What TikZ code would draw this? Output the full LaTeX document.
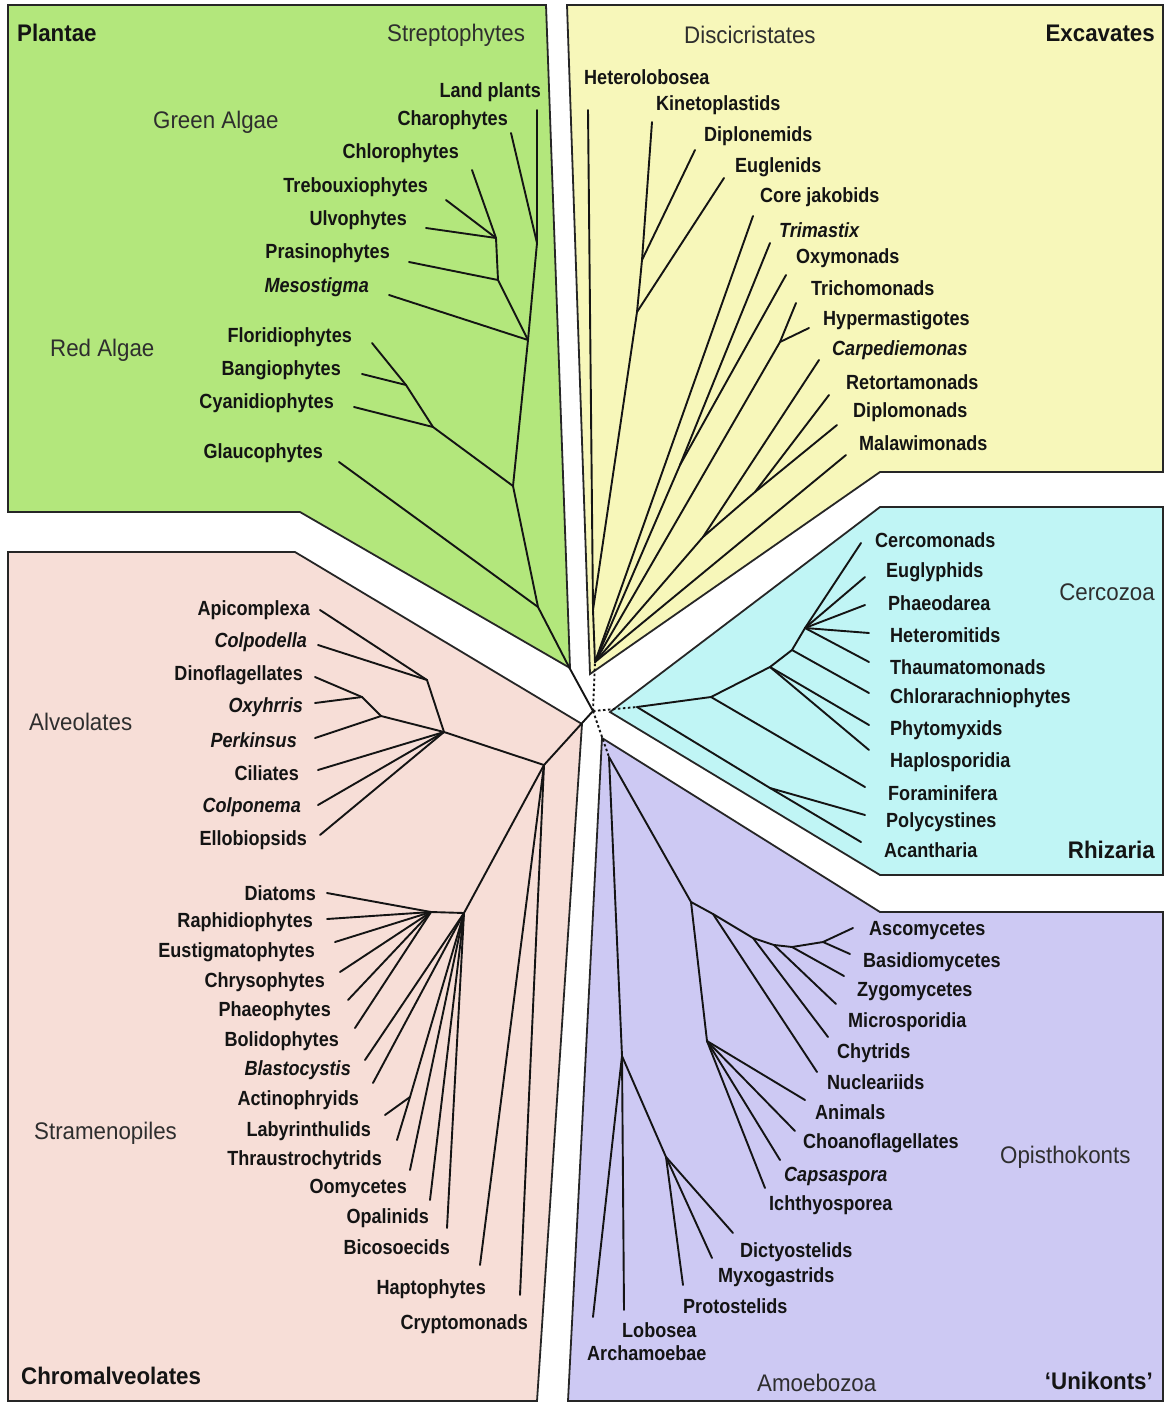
\documentclass[tikz,border=0pt]{standalone}
\usepackage{fontspec}
\setmainfont{Liberation Sans}
\newfontfamily\narrowsans[FakeStretch=0.88]{Liberation Sans}
\newfontfamily\groupsans[FakeStretch=0.93]{Liberation Sans}
\definecolor{plantgreen}{HTML}{B3E77C}
\definecolor{excavyellow}{HTML}{F7F7BA}
\definecolor{rhizcyan}{HTML}{C0F5F5}
\definecolor{chromapink}{HTML}{F7DED7}
\definecolor{unipurple}{HTML}{CDC9F3}
\definecolor{inkblack}{HTML}{141414}
\tikzset{
    pn panel/.style={draw=black!85, line width=1.8pt, line join=miter},
    tr branch/.style={-, draw=inkblack, line width=1.9pt, line cap=round},
    tr link/.style={-, draw=inkblack, line width=1.9pt,
                    dash pattern=on 2.5pt off 2.5pt},
    % Label styles
    tl leaf/.style={font=\narrowsans\fontsize{20.5}{22}\selectfont\bfseries,
                    text=inkblack, inner sep=0pt},
    tl leafit/.style={font=\narrowsans\fontsize{20.5}{22}\selectfont\bfseries\itshape,
                      text=inkblack, inner sep=0pt},
    tl group/.style={font=\groupsans\fontsize{24}{27}\selectfont,
                     text=black!82, inner sep=0pt},
    tl super/.style={font=\groupsans\fontsize{24}{27}\selectfont\bfseries,
                     text=inkblack, inner sep=0pt},
}

\begin{document}
\begin{tikzpicture}[x=1pt, y=-1pt]
    \useasboundingbox (0,0) rectangle (1165,1405);
    \fill[white] (0,0) rectangle (1165,1405);
    % Panels
    \draw[pn panel, fill=plantgreen] (8,5) -- (546,5) -- (570,668)
        -- (300,512) -- (8,512) -- cycle;
    \draw[pn panel, fill=excavyellow] (567,5) -- (1163,5) -- (1163,472)
        -- (880,472) -- (590,674) -- cycle;
    \draw[pn panel, fill=rhizcyan] (880,507) -- (1163,507) -- (1163,875)
        -- (880,875) -- (610,712) -- cycle;
    \draw[pn panel, fill=chromapink] (8,552) -- (295,552) -- (582,724)
        -- (537,1401) -- (8,1401) -- cycle;
    \draw[pn panel, fill=unipurple] (602,738) -- (880,912) -- (1163,912)
        -- (1163,1401) -- (568,1401) -- cycle;

    % Centre
    \coordinate (ctr) at (593,711);
    \coordinate (pl0) at (569,667);
    \coordinate (ex0) at (595,662);
    \coordinate (rz0) at (637,707);
    \coordinate (un0) at (609,757);
    \coordinate (ch0) at (544,765);
    \draw[tr branch] (ctr) -- (pl0);
    \draw[tr branch] (ctr) -- (ch0);
    \draw[tr link] (ctr) -- (ex0);
    \draw[tr link] (ctr) -- (rz0);
    \draw[tr link] (ctr) -- (un0);

    % Plantae
    \coordinate (plG) at (538,607);
    \coordinate (plA) at (513,486);
    \coordinate (plR) at (433,427);
    \coordinate (plRb) at (406,385);
    \coordinate (plB) at (528,340);
    \coordinate (plC) at (537,243);
    \coordinate (plD) at (498,280);
    \coordinate (plE) at (496,238);
    \coordinate (glauE) at (339,462);
    \coordinate (cyanE) at (354,407);
    \coordinate (bangE) at (362,374);
    \coordinate (floriE) at (372,343);
    \coordinate (mesoE) at (389,295);
    \coordinate (prasE) at (409,262);
    \coordinate (ulvoE) at (426,228);
    \coordinate (trebE) at (446,200);
    \coordinate (chloE) at (472,170);
    \coordinate (charE) at (511,133);
    \coordinate (landE) at (537,110);
    \draw[tr branch] (pl0) -- (plG) -- (plA) -- (plB) -- (plC) -- (landE);
    \draw[tr branch] (plG) -- (glauE);
    \draw[tr branch] (plA) -- (plR) -- (cyanE);
    \draw[tr branch] (plR) -- (plRb) -- (floriE);
    \draw[tr branch] (plRb) -- (bangE);
    \draw[tr branch] (plB) -- (mesoE);
    \draw[tr branch] (plB) -- (plD) -- (plE) -- (chloE);
    \draw[tr branch] (plD) -- (prasE);
    \draw[tr branch] (plE) -- (ulvoE);
    \draw[tr branch] (plE) -- (trebE);
    \draw[tr branch] (plC) -- (charE);
    \node[tl leaf, anchor=east] (lLand) at (541,92) {Land plants};
    \node[tl leaf, anchor=east] (lChar) at (508,120) {Charophytes};
    \node[tl leaf, anchor=east] (lChlo) at (459,153) {Chlorophytes};
    \node[tl leaf, anchor=east] (lTreb) at (428,187) {Trebouxiophytes};
    \node[tl leaf, anchor=east] (lUlvo) at (407,220) {Ulvophytes};
    \node[tl leaf, anchor=east] (lPras) at (390,253) {Prasinophytes};
    \node[tl leafit, anchor=east] (lMeso) at (369,287) {Mesostigma};
    \node[tl leaf, anchor=east] (lFlori) at (352,337) {Floridiophytes};
    \node[tl leaf, anchor=east] (lBang) at (341,370) {Bangiophytes};
    \node[tl leaf, anchor=east] (lCyan) at (334,403) {Cyanidiophytes};
    \node[tl leaf, anchor=east] (lGlau) at (323,453) {Glaucophytes};
    \node[tl super, anchor=west] (lPlantae) at (17,33) {Plantae};
    \node[tl group, anchor=west] (lStrepto) at (387,35) {Streptophytes};
    \node[tl group, anchor=west] (lGreen) at (153,122) {Green Algae};
    \node[tl group, anchor=west] (lRed) at (50,350) {Red Algae};

    % Excavates
    \coordinate (exDi) at (593,610);
    \coordinate (exK2) at (637,312);
    \coordinate (exK1) at (642,260);
    \coordinate (exPx) at (680,465);
    \coordinate (exPb) at (780,342);
    \coordinate (exFo) at (703,537);
    \coordinate (exFr) at (755,492);
    \coordinate (hetE) at (588,110);
    \coordinate (kinE) at (652,122);
    \coordinate (dipnE) at (695,150);
    \coordinate (eugE) at (724,178);
    \coordinate (jakE) at (753,216);
    \coordinate (trimE) at (770,243);
    \coordinate (oxyE) at (786,275);
    \coordinate (trichE) at (796,303);
    \coordinate (hypE) at (809,328);
    \coordinate (carpE) at (819,360);
    \coordinate (retE) at (829,395);
    \coordinate (dipmE) at (837,425);
    \coordinate (malE) at (846,455);
    \draw[tr branch] (ex0) -- (exDi) -- (hetE);
    \draw[tr branch] (exDi) -- (exK2) -- (exK1) -- (kinE);
    \draw[tr branch] (exK1) -- (dipnE);
    \draw[tr branch] (exK2) -- (eugE);
    \draw[tr branch] (ex0) -- (jakE);
    \draw[tr branch] (ex0) -- (exPx) -- (trimE);
    \draw[tr branch] (exPx) -- (oxyE);
    \draw[tr branch] (ex0) -- (exPb) -- (trichE);
    \draw[tr branch] (exPb) -- (hypE);
    \draw[tr branch] (ex0) -- (exFo) -- (carpE);
    \draw[tr branch] (exFo) -- (exFr) -- (retE);
    \draw[tr branch] (exFr) -- (dipmE);
    \draw[tr branch] (ex0) -- (malE);
    \node[tl leaf, anchor=west] (lHet) at (584,77) {Heterolobosea};
    \node[tl leaf, anchor=west] (lKin) at (656,105) {Kinetoplastids};
    \node[tl leaf, anchor=west] (lDipn) at (704,136) {Diplonemids};
    \node[tl leaf, anchor=west] (lEug) at (735,167) {Euglenids};
    \node[tl leaf, anchor=west] (lJak) at (760,197) {Core jakobids};
    \node[tl leafit, anchor=west] (lTrim) at (779,230) {Trimastix};
    \node[tl leaf, anchor=west] (lOxy) at (796,258) {Oxymonads};
    \node[tl leaf, anchor=west] (lTrich) at (811,288) {Trichomonads};
    \node[tl leaf, anchor=west] (lHyp) at (823,320) {Hypermastigotes};
    \node[tl leafit, anchor=west] (lCarp) at (832,350) {Carpediemonas};
    \node[tl leaf, anchor=west] (lRet) at (846,382) {Retortamonads};
    \node[tl leaf, anchor=west] (lDipm) at (853,412) {Diplomonads};
    \node[tl leaf, anchor=west] (lMal) at (859,443) {Malawimonads};
    \node[tl group, anchor=west] (lDisc) at (684,35) {Discicristates};
    \node[tl super, anchor=east] (lExcav) at (1155,33) {Excavates};

    % Rhizaria
    \coordinate (rzR1) at (711,697);
    \coordinate (rzN2) at (770,667);
    \coordinate (rzN3) at (792,650);
    \coordinate (rzN4) at (805,628);
    \coordinate (rzP) at (770,788);
    \coordinate (cercE) at (861,543);
    \coordinate (euglE) at (865,577);
    \coordinate (phaeoE) at (865,605);
    \coordinate (hetmE) at (869,633);
    \coordinate (thauE) at (869,662);
    \coordinate (chlaE) at (869,693);
    \coordinate (phytE) at (869,725);
    \coordinate (haplE) at (869,750);
    \coordinate (foraE) at (865,787);
    \coordinate (polyE) at (865,815);
    \coordinate (acanE) at (861,842);
    \draw[tr branch] (rz0) -- (rzR1) -- (rzN2) -- (rzN3) -- (rzN4) -- (cercE);
    \draw[tr branch] (rzN4) -- (euglE);
    \draw[tr branch] (rzN4) -- (phaeoE);
    \draw[tr branch] (rzN4) -- (hetmE);
    \draw[tr branch] (rzN4) -- (thauE);
    \draw[tr branch] (rzN3) -- (chlaE);
    \draw[tr branch] (rzN2) -- (phytE);
    \draw[tr branch] (rzN2) -- (haplE);
    \draw[tr branch] (rzR1) -- (foraE);
    \draw[tr branch] (rz0) -- (rzP) -- (acanE);
    \draw[tr branch] (rzP) -- (polyE);
    \node[tl leaf, anchor=west] (lCerc) at (875,540) {Cercomonads};
    \node[tl leaf, anchor=west] (lEugl) at (886,572) {Euglyphids};
    \node[tl leaf, anchor=west] (lPhaeo) at (888,603) {Phaeodarea};
    \node[tl leaf, anchor=west] (lHetm) at (890,635) {Heteromitids};
    \node[tl leaf, anchor=west] (lThau) at (890,667) {Thaumatomonads};
    \node[tl leaf, anchor=west] (lChla) at (890,698) {Chlorarachniophytes};
    \node[tl leaf, anchor=west] (lPhyt) at (890,730) {Phytomyxids};
    \node[tl leaf, anchor=west] (lHapl) at (890,762) {Haplosporidia};
    \node[tl leaf, anchor=west] (lFora) at (888,793) {Foraminifera};
    \node[tl leaf, anchor=west] (lPoly) at (886,822) {Polycystines};
    \node[tl leaf, anchor=west] (lAcan) at (884,850) {Acantharia};
    \node[tl group, anchor=east] (lCercozoa) at (1155,592) {Cercozoa};
    \node[tl super, anchor=east] (lRhiz) at (1155,850) {Rhizaria};

    % Chromalveolates
    \coordinate (chAL) at (444,732);
    \coordinate (chAP) at (427,680);
    \coordinate (chDO) at (381,716);
    \coordinate (chDI) at (362,697);
    \coordinate (chS) at (464,913);
    \coordinate (chD) at (431,912);
    \coordinate (chLB) at (410,1097);
    \coordinate (apicE) at (320,610);
    \coordinate (colpdE) at (318,645);
    \coordinate (dinoE) at (315,677);
    \coordinate (oxyhE) at (315,703);
    \coordinate (perkE) at (315,738);
    \coordinate (cilE) at (318,770);
    \coordinate (colpnE) at (318,805);
    \coordinate (elloE) at (320,835);
    \coordinate (diatE) at (327,893);
    \coordinate (raphE) at (327,919);
    \coordinate (eustE) at (335,942);
    \coordinate (chryE) at (340,972);
    \coordinate (phaeE) at (348,1000);
    \coordinate (boliE) at (355,1028);
    \coordinate (blastE) at (365,1060);
    \coordinate (actiE) at (373,1083);
    \coordinate (labyE) at (385,1115);
    \coordinate (thraE) at (397,1140);
    \coordinate (oomyE) at (410,1170);
    \coordinate (opalE) at (430,1200);
    \coordinate (bicoE) at (447,1228);
    \coordinate (haptE) at (480,1265);
    \coordinate (cryptE) at (520,1295);
    \draw[tr branch] (ch0) -- (chAL) -- (chAP) -- (apicE);
    \draw[tr branch] (chAP) -- (colpdE);
    \draw[tr branch] (chAL) -- (chDO) -- (chDI) -- (dinoE);
    \draw[tr branch] (chDI) -- (oxyhE);
    \draw[tr branch] (chDO) -- (perkE);
    \draw[tr branch] (chAL) -- (cilE);
    \draw[tr branch] (chAL) -- (colpnE);
    \draw[tr branch] (chAL) -- (elloE);
    \draw[tr branch] (ch0) -- (chS) -- (chD) -- (diatE);
    \draw[tr branch] (chD) -- (raphE);
    \draw[tr branch] (chD) -- (eustE);
    \draw[tr branch] (chD) -- (chryE);
    \draw[tr branch] (chD) -- (phaeE);
    \draw[tr branch] (chD) -- (boliE);
    \draw[tr branch] (chS) -- (blastE);
    \draw[tr branch] (chS) -- (actiE);
    \draw[tr branch] (chS) -- (chLB) -- (thraE);
    \draw[tr branch] (chLB) -- (labyE);
    \draw[tr branch] (chS) -- (oomyE);
    \draw[tr branch] (chS) -- (opalE);
    \draw[tr branch] (chS) -- (bicoE);
    \draw[tr branch] (ch0) -- (haptE);
    \draw[tr branch] (ch0) -- (cryptE);
    \node[tl leaf, anchor=east] (lApic) at (310,610) {Apicomplexa};
    \node[tl leafit, anchor=east] (lColpd) at (307,642) {Colpodella};
    \node[tl leaf, anchor=east] (lDino) at (303,675) {Dinoflagellates};
    \node[tl leafit, anchor=east] (lOxyh) at (303,707) {Oxyhrris};
    \node[tl leafit, anchor=east] (lPerk) at (297,740) {Perkinsus};
    \node[tl leaf, anchor=east] (lCil) at (299,773) {Ciliates};
    \node[tl leafit, anchor=east] (lColpn) at (301,807) {Colponema};
    \node[tl leaf, anchor=east] (lEllo) at (307,840) {Ellobiopsids};
    \node[tl leaf, anchor=east] (lDiat) at (316,893) {Diatoms};
    \node[tl leaf, anchor=east] (lRaph) at (313,922) {Raphidiophytes};
    \node[tl leaf, anchor=east] (lEust) at (315,952) {Eustigmatophytes};
    \node[tl leaf, anchor=east] (lChry) at (325,982) {Chrysophytes};
    \node[tl leaf, anchor=east] (lPhae) at (331,1011) {Phaeophytes};
    \node[tl leaf, anchor=east] (lBoli) at (339,1041) {Bolidophytes};
    \node[tl leafit, anchor=east] (lBlast) at (351,1070) {Blastocystis};
    \node[tl leaf, anchor=east] (lActi) at (359,1100) {Actinophryids};
    \node[tl leaf, anchor=east] (lLaby) at (371,1131) {Labyrinthulids};
    \node[tl leaf, anchor=east] (lThra) at (382,1160) {Thraustrochytrids};
    \node[tl leaf, anchor=east] (lOomy) at (407,1188) {Oomycetes};
    \node[tl leaf, anchor=east] (lOpal) at (429,1218) {Opalinids};
    \node[tl leaf, anchor=east] (lBico) at (450,1247) {Bicosoecids};
    \node[tl leaf, anchor=east] (lHapt) at (486,1289) {Haptophytes};
    \node[tl leaf, anchor=east] (lCrypt) at (528,1324) {Cryptomonads};
    \node[tl group, anchor=west] (lAlveo) at (29,722) {Alveolates};
    \node[tl group, anchor=west] (lStram) at (34,1133) {Stramenopiles};
    \node[tl super, anchor=west] (lChromalv) at (21,1376) {Chromalveolates};

    % 'Unikonts'
    \coordinate (unAM) at (622,1056);
    \coordinate (unPD) at (666,1157);
    \coordinate (unO1) at (691,902);
    \coordinate (unHZ) at (707,1041);
    \coordinate (unF1) at (713,914);
    \coordinate (unF2) at (753,938);
    \coordinate (unF3) at (774,945);
    \coordinate (unF4) at (792,947);
    \coordinate (unF5) at (823,942);
    \coordinate (ascoE) at (853,928);
    \coordinate (basiE) at (850,954);
    \coordinate (zygoE) at (844,976);
    \coordinate (micrE) at (836,1004);
    \coordinate (chytE) at (828,1037);
    \coordinate (nuclE) at (817,1072);
    \coordinate (animE) at (805,1100);
    \coordinate (choaE) at (795,1131);
    \coordinate (capsE) at (780,1160);
    \coordinate (ichtE) at (765,1188);
    \coordinate (dictE) at (733,1233);
    \coordinate (myxoE) at (712,1258);
    \coordinate (protE) at (683,1285);
    \coordinate (loboE) at (624,1310);
    \coordinate (archE) at (593,1317);
    \draw[tr branch] (un0) -- (unO1) -- (unF1) -- (unF2) -- (unF3) -- (unF4)
        -- (unF5) -- (ascoE);
    \draw[tr branch] (unF5) -- (basiE);
    \draw[tr branch] (unF4) -- (zygoE);
    \draw[tr branch] (unF3) -- (micrE);
    \draw[tr branch] (unF2) -- (chytE);
    \draw[tr branch] (unF1) -- (nuclE);
    \draw[tr branch] (unO1) -- (unHZ) -- (animE);
    \draw[tr branch] (unHZ) -- (choaE);
    \draw[tr branch] (unHZ) -- (capsE);
    \draw[tr branch] (unHZ) -- (ichtE);
    \draw[tr branch] (un0) -- (unAM) -- (loboE);
    \draw[tr branch] (unAM) -- (archE);
    \draw[tr branch] (unAM) -- (unPD) -- (protE);
    \draw[tr branch] (unPD) -- (myxoE);
    \draw[tr branch] (unPD) -- (dictE);
    \node[tl leaf, anchor=west] (lAsco) at (869,931) {Ascomycetes};
    \node[tl leaf, anchor=west] (lBasi) at (863,962) {Basidiomycetes};
    \node[tl leaf, anchor=west] (lZygo) at (857,992) {Zygomycetes};
    \node[tl leaf, anchor=west] (lMicr) at (848,1022) {Microsporidia};
    \node[tl leaf, anchor=west] (lChyt) at (837,1053) {Chytrids};
    \node[tl leaf, anchor=west] (lNucl) at (827,1082) {Nucleariids};
    \node[tl leaf, anchor=west] (lAnim) at (815,1112) {Animals};
    \node[tl leaf, anchor=west] (lChoa) at (803,1143) {Choanoflagellates};
    \node[tl leafit, anchor=west] (lCaps) at (784,1176) {Capsaspora};
    \node[tl leaf, anchor=west] (lIcht) at (769,1205) {Ichthyosporea};
    \node[tl leaf, anchor=west] (lDict) at (740,1252) {Dictyostelids};
    \node[tl leaf, anchor=west] (lMyxo) at (718,1277) {Myxogastrids};
    \node[tl leaf, anchor=west] (lProt) at (683,1306) {Protostelids};
    \node[tl leaf, anchor=west] (lLobo) at (622,1330) {Lobosea};
    \node[tl leaf, anchor=west] (lArch) at (587,1353) {Archamoebae};
    \node[tl group, anchor=west] (lOpis) at (1000,1157) {Opisthokonts};
    \node[tl group, anchor=west] (lAmoe) at (757,1383) {Amoebozoa};
    \node[tl super, anchor=east] (lUnik) at (1153,1381) {‘Unikonts’};
\end{tikzpicture}
\end{document}
